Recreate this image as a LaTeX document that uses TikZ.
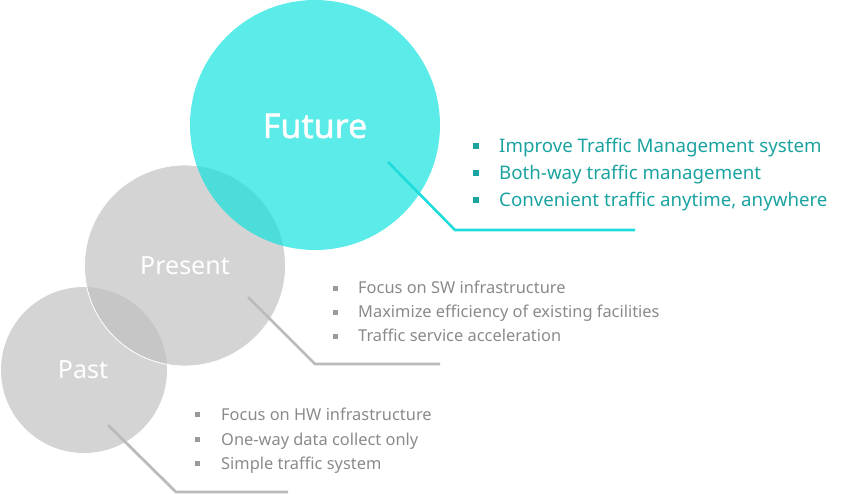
\documentclass[tikz,border=0pt]{standalone}
\usepackage{fontspec}
\setmainfont{Noto Sans}
\newfontfamily\futfont[FakeBold=1.2]{Noto Sans}
\begin{document}
\begin{tikzpicture}[x=1pt,y=-1pt,
  bubble/.style={circle,inner sep=0pt,minimum size=#1},
  graybubble/.style={bubble=#1,fill=bubblegray,fill opacity=0.67},
  cyanbubble/.style={bubble=#1,fill=bubblecyan,fill opacity=0.67},
  label/.style={text=white,font=\fontsize{25}{28}\selectfont,text opacity=1},
  futlink/.style={draw=linecyan,line width=2.6pt},
  graylink/.style={draw=linegray,line width=2.8pt},
  futitem/.style={anchor=base west,inner sep=0pt,text=itemteal,font=\fontsize{18.7}{22}\selectfont},
  grayitem/.style={anchor=base west,inner sep=0pt,text=itemgray,font=\fontsize{16.4}{20}\selectfont},
  futbullet/.style={fill=itemteal,minimum size=6pt,inner sep=0pt,draw=none},
  graybullet/.style={fill=bulletgray,minimum size=5pt,inner sep=0pt,draw=none}]
\definecolor{bubblegray}{HTML}{BFBFBF}
\definecolor{bubblecyan}{HTML}{0AE1DE}
\definecolor{linecyan}{HTML}{1EDCDC}
\definecolor{linegray}{HTML}{BBBBBB}
\definecolor{itemteal}{HTML}{1BA3A0}
\definecolor{itemgray}{HTML}{8A8A8A}
\definecolor{bulletgray}{HTML}{9A9A9A}
\useasboundingbox (0,0) rectangle (864,494);

% circles
\node[graybubble=166pt] (past) at (84,370) {};
\node[graybubble=201pt,draw=white,line width=0.8pt,draw opacity=1] (present) at (185,265.5) {};
\node[cyanbubble=250pt] (future) at (315,125) {};

\node[label] at ([xshift=-1pt]past) {Past};
\node[label] at (present) {Present};
\node[label,font=\futfont\fontsize{34}{40}\selectfont] at ([yshift=-1pt]future) {Future};

% leader lines
\coordinate (fs) at (388,162);
\coordinate (fb) at (455,230);
\coordinate (fe) at (635,230);
\coordinate (ps) at (248,297);
\coordinate (pb) at (315,364);
\coordinate (pe) at (440,364);
\coordinate (as) at (108,425);
\coordinate (ab) at (176,492);
\coordinate (ae) at (288,492);
\draw[futlink] (fs) -- (fb) -- (fe);
\draw[graylink] (ps) -- (pb) -- (pe);
\draw[graylink] (as) -- (ab) -- (ae);

% future items
\node[futbullet] (fb1) at (476,146) {};
\node[futbullet] (fb2) at (476,173) {};
\node[futbullet] (fb3) at (476,200) {};
\node[futitem] (ft1) at (499,153) {Improve Traffic Management system};
\node[futitem] (ft2) at (499,180) {Both-way traffic management};
\node[futitem] (ft3) at (499,207) {Convenient traffic anytime, anywhere};

% present items
\node[graybullet] (pb1) at (335,288.5) {};
\node[graybullet] (pb2) at (335,312.5) {};
\node[graybullet] (pb3) at (335,336.5) {};
\node[grayitem] (pt1) at (358,293) {Focus on SW infrastructure};
\node[grayitem] (pt2) at (358,317) {Maximize efficiency of existing facilities};
\node[grayitem] (pt3) at (358,341) {Traffic service acceleration};

% past items
\node[graybullet] (ab1) at (197,414.5) {};
\node[graybullet] (ab2) at (197,439) {};
\node[graybullet] (ab3) at (197,463) {};
\node[grayitem] (at1) at (221,420) {Focus on HW infrastructure};
\node[grayitem] (at2) at (221,445) {One-way data collect only};
\node[grayitem] (at3) at (221,469) {Simple traffic system};
\end{tikzpicture}
\end{document}
